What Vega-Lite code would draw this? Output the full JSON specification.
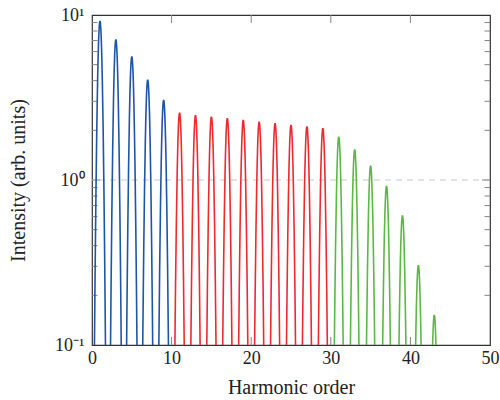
{
  "$schema": "https://vega.github.io/schema/vega-lite/v6.json",
  "width": 398,
  "height": 330,
  "autosize": {"type": "none"},
  "padding": {"left": 92, "top": 15, "right": 10, "bottom": 55},
  "config": {
    "font": "Liberation Serif",
    "view": {"stroke": "#333333", "strokeWidth": 1.2},
    "axis": {
      "labelFont": "Liberation Serif",
      "titleFont": "Liberation Serif",
      "labelFontSize": 18,
      "titleFontSize": 20,
      "titleFontWeight": "normal",
      "labelColor": "#222222",
      "titleColor": "#222222",
      "domain": false,
      "ticks": false,
      "grid": false,
      "labelFlush": false,
      "labelOverlap": false
    }
  },
  "data": {"values": [
    {"h":1,"g":"A","x":0.2,"y":0.0217},{"h":1,"g":"A","x":0.3,"y":0.0896},{"h":1,"g":"A","x":0.4,"y":0.3063},{"h":1,"g":"A","x":0.5,"y":0.8659},{"h":1,"g":"A","x":0.6,"y":2.028},{"h":1,"g":"A","x":0.7,"y":3.929},{"h":1,"g":"A","x":0.75,"y":5.096},{"h":1,"g":"A","x":0.8,"y":6.304},{"h":1,"g":"A","x":0.85,"y":7.437},{"h":1,"g":"A","x":0.9,"y":8.370},{"h":1,"g":"A","x":0.95,"y":8.985},{"h":1,"g":"A","x":1,"y":9.2},{"h":1,"g":"A","x":1.05,"y":8.985},{"h":1,"g":"A","x":1.1,"y":8.370},{"h":1,"g":"A","x":1.15,"y":7.437},{"h":1,"g":"A","x":1.2,"y":6.304},{"h":1,"g":"A","x":1.25,"y":5.096},{"h":1,"g":"A","x":1.3,"y":3.929},{"h":1,"g":"A","x":1.4,"y":2.028},{"h":1,"g":"A","x":1.5,"y":0.8659},{"h":1,"g":"A","x":1.6,"y":0.3063},{"h":1,"g":"A","x":1.7,"y":0.0896},{"h":1,"g":"A","x":1.8,"y":0.0217},
    {"h":3,"g":"A","x":2.2,"y":0.0168},{"h":3,"g":"A","x":2.3,"y":0.0692},{"h":3,"g":"A","x":2.4,"y":0.2364},{"h":3,"g":"A","x":2.5,"y":0.6683},{"h":3,"g":"A","x":2.6,"y":1.565},{"h":3,"g":"A","x":2.7,"y":3.032},{"h":3,"g":"A","x":2.75,"y":3.933},{"h":3,"g":"A","x":2.8,"y":4.865},{"h":3,"g":"A","x":2.85,"y":5.740},{"h":3,"g":"A","x":2.9,"y":6.460},{"h":3,"g":"A","x":2.95,"y":6.934},{"h":3,"g":"A","x":3,"y":7.1},{"h":3,"g":"A","x":3.05,"y":6.934},{"h":3,"g":"A","x":3.1,"y":6.460},{"h":3,"g":"A","x":3.15,"y":5.740},{"h":3,"g":"A","x":3.2,"y":4.865},{"h":3,"g":"A","x":3.25,"y":3.933},{"h":3,"g":"A","x":3.3,"y":3.032},{"h":3,"g":"A","x":3.4,"y":1.565},{"h":3,"g":"A","x":3.5,"y":0.6683},{"h":3,"g":"A","x":3.6,"y":0.2364},{"h":3,"g":"A","x":3.7,"y":0.0692},{"h":3,"g":"A","x":3.8,"y":0.0168},
    {"h":5,"g":"A","x":4.2,"y":0.0132},{"h":5,"g":"A","x":4.3,"y":0.0545},{"h":5,"g":"A","x":4.4,"y":0.1864},{"h":5,"g":"A","x":4.5,"y":0.5271},{"h":5,"g":"A","x":4.6,"y":1.234},{"h":5,"g":"A","x":4.7,"y":2.392},{"h":5,"g":"A","x":4.75,"y":3.102},{"h":5,"g":"A","x":4.8,"y":3.837},{"h":5,"g":"A","x":4.85,"y":4.527},{"h":5,"g":"A","x":4.9,"y":5.095},{"h":5,"g":"A","x":4.95,"y":5.469},{"h":5,"g":"A","x":5,"y":5.6},{"h":5,"g":"A","x":5.05,"y":5.469},{"h":5,"g":"A","x":5.1,"y":5.095},{"h":5,"g":"A","x":5.15,"y":4.527},{"h":5,"g":"A","x":5.2,"y":3.837},{"h":5,"g":"A","x":5.25,"y":3.102},{"h":5,"g":"A","x":5.3,"y":2.392},{"h":5,"g":"A","x":5.4,"y":1.234},{"h":5,"g":"A","x":5.5,"y":0.5271},{"h":5,"g":"A","x":5.6,"y":0.1864},{"h":5,"g":"A","x":5.7,"y":0.0545},{"h":5,"g":"A","x":5.8,"y":0.0132},
    {"h":7,"g":"A","x":6.2,"y":0.0096},{"h":7,"g":"A","x":6.3,"y":0.0394},{"h":7,"g":"A","x":6.4,"y":0.1348},{"h":7,"g":"A","x":6.5,"y":0.3812},{"h":7,"g":"A","x":6.6,"y":0.8926},{"h":7,"g":"A","x":6.7,"y":1.730},{"h":7,"g":"A","x":6.75,"y":2.243},{"h":7,"g":"A","x":6.8,"y":2.775},{"h":7,"g":"A","x":6.85,"y":3.274},{"h":7,"g":"A","x":6.9,"y":3.685},{"h":7,"g":"A","x":6.95,"y":3.955},{"h":7,"g":"A","x":7,"y":4.05},{"h":7,"g":"A","x":7.05,"y":3.955},{"h":7,"g":"A","x":7.1,"y":3.685},{"h":7,"g":"A","x":7.15,"y":3.274},{"h":7,"g":"A","x":7.2,"y":2.775},{"h":7,"g":"A","x":7.25,"y":2.243},{"h":7,"g":"A","x":7.3,"y":1.730},{"h":7,"g":"A","x":7.4,"y":0.8926},{"h":7,"g":"A","x":7.5,"y":0.3812},{"h":7,"g":"A","x":7.6,"y":0.1348},{"h":7,"g":"A","x":7.7,"y":0.0394},{"h":7,"g":"A","x":7.8,"y":0.0096},
    {"h":9,"g":"A","x":8.2,"y":0.0072},{"h":9,"g":"A","x":8.3,"y":0.0298},{"h":9,"g":"A","x":8.4,"y":0.1019},{"h":9,"g":"A","x":8.5,"y":0.2880},{"h":9,"g":"A","x":8.6,"y":0.6744},{"h":9,"g":"A","x":8.7,"y":1.307},{"h":9,"g":"A","x":8.75,"y":1.695},{"h":9,"g":"A","x":8.8,"y":2.097},{"h":9,"g":"A","x":8.85,"y":2.474},{"h":9,"g":"A","x":8.9,"y":2.784},{"h":9,"g":"A","x":8.95,"y":2.988},{"h":9,"g":"A","x":9,"y":3.06},{"h":9,"g":"A","x":9.05,"y":2.988},{"h":9,"g":"A","x":9.1,"y":2.784},{"h":9,"g":"A","x":9.15,"y":2.474},{"h":9,"g":"A","x":9.2,"y":2.097},{"h":9,"g":"A","x":9.25,"y":1.695},{"h":9,"g":"A","x":9.3,"y":1.307},{"h":9,"g":"A","x":9.4,"y":0.6744},{"h":9,"g":"A","x":9.5,"y":0.2880},{"h":9,"g":"A","x":9.6,"y":0.1019},{"h":9,"g":"A","x":9.7,"y":0.0298},{"h":9,"g":"A","x":9.8,"y":0.0072},
    {"h":11,"g":"B","x":10.2,"y":0.0060},{"h":11,"g":"B","x":10.3,"y":0.0249},{"h":11,"g":"B","x":10.4,"y":0.0852},{"h":11,"g":"B","x":10.5,"y":0.2409},{"h":11,"g":"B","x":10.6,"y":0.5642},{"h":11,"g":"B","x":10.7,"y":1.093},{"h":11,"g":"B","x":10.75,"y":1.418},{"h":11,"g":"B","x":10.8,"y":1.754},{"h":11,"g":"B","x":10.85,"y":2.070},{"h":11,"g":"B","x":10.9,"y":2.329},{"h":11,"g":"B","x":10.95,"y":2.500},{"h":11,"g":"B","x":11,"y":2.56},{"h":11,"g":"B","x":11.05,"y":2.500},{"h":11,"g":"B","x":11.1,"y":2.329},{"h":11,"g":"B","x":11.15,"y":2.070},{"h":11,"g":"B","x":11.2,"y":1.754},{"h":11,"g":"B","x":11.25,"y":1.418},{"h":11,"g":"B","x":11.3,"y":1.093},{"h":11,"g":"B","x":11.4,"y":0.5642},{"h":11,"g":"B","x":11.5,"y":0.2409},{"h":11,"g":"B","x":11.6,"y":0.0852},{"h":11,"g":"B","x":11.7,"y":0.0249},{"h":11,"g":"B","x":11.8,"y":0.0060},
    {"h":13,"g":"B","x":12.2,"y":0.0058},{"h":13,"g":"B","x":12.3,"y":0.0241},{"h":13,"g":"B","x":12.4,"y":0.0822},{"h":13,"g":"B","x":12.5,"y":0.2325},{"h":13,"g":"B","x":12.6,"y":0.5444},{"h":13,"g":"B","x":12.7,"y":1.055},{"h":13,"g":"B","x":12.75,"y":1.368},{"h":13,"g":"B","x":12.8,"y":1.692},{"h":13,"g":"B","x":12.85,"y":1.997},{"h":13,"g":"B","x":12.9,"y":2.247},{"h":13,"g":"B","x":12.95,"y":2.412},{"h":13,"g":"B","x":13,"y":2.47},{"h":13,"g":"B","x":13.05,"y":2.412},{"h":13,"g":"B","x":13.1,"y":2.247},{"h":13,"g":"B","x":13.15,"y":1.997},{"h":13,"g":"B","x":13.2,"y":1.692},{"h":13,"g":"B","x":13.25,"y":1.368},{"h":13,"g":"B","x":13.3,"y":1.055},{"h":13,"g":"B","x":13.4,"y":0.5444},{"h":13,"g":"B","x":13.5,"y":0.2325},{"h":13,"g":"B","x":13.6,"y":0.0822},{"h":13,"g":"B","x":13.7,"y":0.0241},{"h":13,"g":"B","x":13.8,"y":0.0058},
    {"h":15,"g":"B","x":14.2,"y":0.0057},{"h":15,"g":"B","x":14.3,"y":0.0236},{"h":15,"g":"B","x":14.4,"y":0.0806},{"h":15,"g":"B","x":14.5,"y":0.2278},{"h":15,"g":"B","x":14.6,"y":0.5334},{"h":15,"g":"B","x":14.7,"y":1.034},{"h":15,"g":"B","x":14.75,"y":1.340},{"h":15,"g":"B","x":14.8,"y":1.658},{"h":15,"g":"B","x":14.85,"y":1.956},{"h":15,"g":"B","x":14.9,"y":2.202},{"h":15,"g":"B","x":14.95,"y":2.363},{"h":15,"g":"B","x":15,"y":2.42},{"h":15,"g":"B","x":15.05,"y":2.363},{"h":15,"g":"B","x":15.1,"y":2.202},{"h":15,"g":"B","x":15.15,"y":1.956},{"h":15,"g":"B","x":15.2,"y":1.658},{"h":15,"g":"B","x":15.25,"y":1.340},{"h":15,"g":"B","x":15.3,"y":1.034},{"h":15,"g":"B","x":15.4,"y":0.5334},{"h":15,"g":"B","x":15.5,"y":0.2278},{"h":15,"g":"B","x":15.6,"y":0.0806},{"h":15,"g":"B","x":15.7,"y":0.0236},{"h":15,"g":"B","x":15.8,"y":0.0057},
    {"h":17,"g":"B","x":16.2,"y":0.0056},{"h":17,"g":"B","x":16.3,"y":0.0231},{"h":17,"g":"B","x":16.4,"y":0.0789},{"h":17,"g":"B","x":16.5,"y":0.2231},{"h":17,"g":"B","x":16.6,"y":0.5223},{"h":17,"g":"B","x":16.7,"y":1.012},{"h":17,"g":"B","x":16.75,"y":1.313},{"h":17,"g":"B","x":16.8,"y":1.624},{"h":17,"g":"B","x":16.85,"y":1.916},{"h":17,"g":"B","x":16.9,"y":2.156},{"h":17,"g":"B","x":16.95,"y":2.315},{"h":17,"g":"B","x":17,"y":2.37},{"h":17,"g":"B","x":17.05,"y":2.315},{"h":17,"g":"B","x":17.1,"y":2.156},{"h":17,"g":"B","x":17.15,"y":1.916},{"h":17,"g":"B","x":17.2,"y":1.624},{"h":17,"g":"B","x":17.25,"y":1.313},{"h":17,"g":"B","x":17.3,"y":1.012},{"h":17,"g":"B","x":17.4,"y":0.5223},{"h":17,"g":"B","x":17.5,"y":0.2231},{"h":17,"g":"B","x":17.6,"y":0.0789},{"h":17,"g":"B","x":17.7,"y":0.0231},{"h":17,"g":"B","x":17.8,"y":0.0056},
    {"h":19,"g":"B","x":18.2,"y":0.0055},{"h":19,"g":"B","x":18.3,"y":0.0225},{"h":19,"g":"B","x":18.4,"y":0.0769},{"h":19,"g":"B","x":18.5,"y":0.2174},{"h":19,"g":"B","x":18.6,"y":0.5091},{"h":19,"g":"B","x":18.7,"y":0.9866},{"h":19,"g":"B","x":18.75,"y":1.280},{"h":19,"g":"B","x":18.8,"y":1.583},{"h":19,"g":"B","x":18.85,"y":1.867},{"h":19,"g":"B","x":18.9,"y":2.102},{"h":19,"g":"B","x":18.95,"y":2.256},{"h":19,"g":"B","x":19,"y":2.31},{"h":19,"g":"B","x":19.05,"y":2.256},{"h":19,"g":"B","x":19.1,"y":2.102},{"h":19,"g":"B","x":19.15,"y":1.867},{"h":19,"g":"B","x":19.2,"y":1.583},{"h":19,"g":"B","x":19.25,"y":1.280},{"h":19,"g":"B","x":19.3,"y":0.9866},{"h":19,"g":"B","x":19.4,"y":0.5091},{"h":19,"g":"B","x":19.5,"y":0.2174},{"h":19,"g":"B","x":19.6,"y":0.0769},{"h":19,"g":"B","x":19.7,"y":0.0225},{"h":19,"g":"B","x":19.8,"y":0.0055},
    {"h":21,"g":"B","x":20.2,"y":0.0053},{"h":21,"g":"B","x":20.3,"y":0.0220},{"h":21,"g":"B","x":20.4,"y":0.0752},{"h":21,"g":"B","x":20.5,"y":0.2127},{"h":21,"g":"B","x":20.6,"y":0.4981},{"h":21,"g":"B","x":20.7,"y":0.9652},{"h":21,"g":"B","x":20.75,"y":1.252},{"h":21,"g":"B","x":20.8,"y":1.549},{"h":21,"g":"B","x":20.85,"y":1.827},{"h":21,"g":"B","x":20.9,"y":2.056},{"h":21,"g":"B","x":20.95,"y":2.207},{"h":21,"g":"B","x":21,"y":2.26},{"h":21,"g":"B","x":21.05,"y":2.207},{"h":21,"g":"B","x":21.1,"y":2.056},{"h":21,"g":"B","x":21.15,"y":1.827},{"h":21,"g":"B","x":21.2,"y":1.549},{"h":21,"g":"B","x":21.25,"y":1.252},{"h":21,"g":"B","x":21.3,"y":0.9652},{"h":21,"g":"B","x":21.4,"y":0.4981},{"h":21,"g":"B","x":21.5,"y":0.2127},{"h":21,"g":"B","x":21.6,"y":0.0752},{"h":21,"g":"B","x":21.7,"y":0.0220},{"h":21,"g":"B","x":21.8,"y":0.0053},
    {"h":23,"g":"B","x":22.2,"y":0.0052},{"h":23,"g":"B","x":22.3,"y":0.0215},{"h":23,"g":"B","x":22.4,"y":0.0736},{"h":23,"g":"B","x":22.5,"y":0.2080},{"h":23,"g":"B","x":22.6,"y":0.4871},{"h":23,"g":"B","x":22.7,"y":0.9439},{"h":23,"g":"B","x":22.75,"y":1.224},{"h":23,"g":"B","x":22.8,"y":1.514},{"h":23,"g":"B","x":22.85,"y":1.787},{"h":23,"g":"B","x":22.9,"y":2.011},{"h":23,"g":"B","x":22.95,"y":2.158},{"h":23,"g":"B","x":23,"y":2.21},{"h":23,"g":"B","x":23.05,"y":2.158},{"h":23,"g":"B","x":23.1,"y":2.011},{"h":23,"g":"B","x":23.15,"y":1.787},{"h":23,"g":"B","x":23.2,"y":1.514},{"h":23,"g":"B","x":23.25,"y":1.224},{"h":23,"g":"B","x":23.3,"y":0.9439},{"h":23,"g":"B","x":23.4,"y":0.4871},{"h":23,"g":"B","x":23.5,"y":0.2080},{"h":23,"g":"B","x":23.6,"y":0.0736},{"h":23,"g":"B","x":23.7,"y":0.0215},{"h":23,"g":"B","x":23.8,"y":0.0052},
    {"h":25,"g":"B","x":24.2,"y":0.0051},{"h":25,"g":"B","x":24.3,"y":0.0210},{"h":25,"g":"B","x":24.4,"y":0.0719},{"h":25,"g":"B","x":24.5,"y":0.2033},{"h":25,"g":"B","x":24.6,"y":0.4761},{"h":25,"g":"B","x":24.7,"y":0.9225},{"h":25,"g":"B","x":24.75,"y":1.196},{"h":25,"g":"B","x":24.8,"y":1.480},{"h":25,"g":"B","x":24.85,"y":1.746},{"h":25,"g":"B","x":24.9,"y":1.965},{"h":25,"g":"B","x":24.95,"y":2.109},{"h":25,"g":"B","x":25,"y":2.16},{"h":25,"g":"B","x":25.05,"y":2.109},{"h":25,"g":"B","x":25.1,"y":1.965},{"h":25,"g":"B","x":25.15,"y":1.746},{"h":25,"g":"B","x":25.2,"y":1.480},{"h":25,"g":"B","x":25.25,"y":1.196},{"h":25,"g":"B","x":25.3,"y":0.9225},{"h":25,"g":"B","x":25.4,"y":0.4761},{"h":25,"g":"B","x":25.5,"y":0.2033},{"h":25,"g":"B","x":25.6,"y":0.0719},{"h":25,"g":"B","x":25.7,"y":0.0210},{"h":25,"g":"B","x":25.8,"y":0.0051},
    {"h":27,"g":"B","x":26.2,"y":0.0050},{"h":27,"g":"B","x":26.3,"y":0.0206},{"h":27,"g":"B","x":26.4,"y":0.0702},{"h":27,"g":"B","x":26.5,"y":0.1986},{"h":27,"g":"B","x":26.6,"y":0.4650},{"h":27,"g":"B","x":26.7,"y":0.9012},{"h":27,"g":"B","x":26.75,"y":1.169},{"h":27,"g":"B","x":26.8,"y":1.446},{"h":27,"g":"B","x":26.85,"y":1.706},{"h":27,"g":"B","x":26.9,"y":1.920},{"h":27,"g":"B","x":26.95,"y":2.061},{"h":27,"g":"B","x":27,"y":2.11},{"h":27,"g":"B","x":27.05,"y":2.061},{"h":27,"g":"B","x":27.1,"y":1.920},{"h":27,"g":"B","x":27.15,"y":1.706},{"h":27,"g":"B","x":27.2,"y":1.446},{"h":27,"g":"B","x":27.25,"y":1.169},{"h":27,"g":"B","x":27.3,"y":0.9012},{"h":27,"g":"B","x":27.4,"y":0.4650},{"h":27,"g":"B","x":27.5,"y":0.1986},{"h":27,"g":"B","x":27.6,"y":0.0702},{"h":27,"g":"B","x":27.7,"y":0.0206},{"h":27,"g":"B","x":27.8,"y":0.0050},
    {"h":29,"g":"B","x":28.2,"y":0.0049},{"h":29,"g":"B","x":28.3,"y":0.0201},{"h":29,"g":"B","x":28.4,"y":0.0686},{"h":29,"g":"B","x":28.5,"y":0.1939},{"h":29,"g":"B","x":28.6,"y":0.4540},{"h":29,"g":"B","x":28.7,"y":0.8798},{"h":29,"g":"B","x":28.75,"y":1.141},{"h":29,"g":"B","x":28.8,"y":1.411},{"h":29,"g":"B","x":28.85,"y":1.665},{"h":29,"g":"B","x":28.9,"y":1.874},{"h":29,"g":"B","x":28.95,"y":2.012},{"h":29,"g":"B","x":29,"y":2.06},{"h":29,"g":"B","x":29.05,"y":2.012},{"h":29,"g":"B","x":29.1,"y":1.874},{"h":29,"g":"B","x":29.15,"y":1.665},{"h":29,"g":"B","x":29.2,"y":1.411},{"h":29,"g":"B","x":29.25,"y":1.141},{"h":29,"g":"B","x":29.3,"y":0.8798},{"h":29,"g":"B","x":29.4,"y":0.4540},{"h":29,"g":"B","x":29.5,"y":0.1939},{"h":29,"g":"B","x":29.6,"y":0.0686},{"h":29,"g":"B","x":29.7,"y":0.0201},{"h":29,"g":"B","x":29.8,"y":0.0049},
    {"h":31,"g":"C","x":30.2,"y":0.0043},{"h":31,"g":"C","x":30.3,"y":0.0178},{"h":31,"g":"C","x":30.4,"y":0.0609},{"h":31,"g":"C","x":30.5,"y":0.1722},{"h":31,"g":"C","x":30.6,"y":0.4033},{"h":31,"g":"C","x":30.7,"y":0.7816},{"h":31,"g":"C","x":30.75,"y":1.014},{"h":31,"g":"C","x":30.8,"y":1.254},{"h":31,"g":"C","x":30.85,"y":1.479},{"h":31,"g":"C","x":30.9,"y":1.665},{"h":31,"g":"C","x":30.95,"y":1.787},{"h":31,"g":"C","x":31,"y":1.83},{"h":31,"g":"C","x":31.05,"y":1.787},{"h":31,"g":"C","x":31.1,"y":1.665},{"h":31,"g":"C","x":31.15,"y":1.479},{"h":31,"g":"C","x":31.2,"y":1.254},{"h":31,"g":"C","x":31.25,"y":1.014},{"h":31,"g":"C","x":31.3,"y":0.7816},{"h":31,"g":"C","x":31.4,"y":0.4033},{"h":31,"g":"C","x":31.5,"y":0.1722},{"h":31,"g":"C","x":31.6,"y":0.0609},{"h":31,"g":"C","x":31.7,"y":0.0178},{"h":31,"g":"C","x":31.8,"y":0.0043},
    {"h":33,"g":"C","x":32.2,"y":0.0036},{"h":33,"g":"C","x":32.3,"y":0.0149},{"h":33,"g":"C","x":32.4,"y":0.0509},{"h":33,"g":"C","x":32.5,"y":0.1440},{"h":33,"g":"C","x":32.6,"y":0.3372},{"h":33,"g":"C","x":32.7,"y":0.6535},{"h":33,"g":"C","x":32.75,"y":0.8475},{"h":33,"g":"C","x":32.8,"y":1.048},{"h":33,"g":"C","x":32.85,"y":1.237},{"h":33,"g":"C","x":32.9,"y":1.392},{"h":33,"g":"C","x":32.95,"y":1.494},{"h":33,"g":"C","x":33,"y":1.53},{"h":33,"g":"C","x":33.05,"y":1.494},{"h":33,"g":"C","x":33.1,"y":1.392},{"h":33,"g":"C","x":33.15,"y":1.237},{"h":33,"g":"C","x":33.2,"y":1.048},{"h":33,"g":"C","x":33.25,"y":0.8475},{"h":33,"g":"C","x":33.3,"y":0.6535},{"h":33,"g":"C","x":33.4,"y":0.3372},{"h":33,"g":"C","x":33.5,"y":0.1440},{"h":33,"g":"C","x":33.6,"y":0.0509},{"h":33,"g":"C","x":33.7,"y":0.0149},{"h":33,"g":"C","x":33.8,"y":0.0036},
    {"h":35,"g":"C","x":34.2,"y":0.0029},{"h":35,"g":"C","x":34.3,"y":0.0119},{"h":35,"g":"C","x":34.4,"y":0.0406},{"h":35,"g":"C","x":34.5,"y":0.1148},{"h":35,"g":"C","x":34.6,"y":0.2689},{"h":35,"g":"C","x":34.7,"y":0.5211},{"h":35,"g":"C","x":34.75,"y":0.6758},{"h":35,"g":"C","x":34.8,"y":0.8359},{"h":35,"g":"C","x":34.85,"y":0.9862},{"h":35,"g":"C","x":34.9,"y":1.110},{"h":35,"g":"C","x":34.95,"y":1.191},{"h":35,"g":"C","x":35,"y":1.22},{"h":35,"g":"C","x":35.05,"y":1.191},{"h":35,"g":"C","x":35.1,"y":1.110},{"h":35,"g":"C","x":35.15,"y":0.9862},{"h":35,"g":"C","x":35.2,"y":0.8359},{"h":35,"g":"C","x":35.25,"y":0.6758},{"h":35,"g":"C","x":35.3,"y":0.5211},{"h":35,"g":"C","x":35.4,"y":0.2689},{"h":35,"g":"C","x":35.5,"y":0.1148},{"h":35,"g":"C","x":35.6,"y":0.0406},{"h":35,"g":"C","x":35.7,"y":0.0119},{"h":35,"g":"C","x":35.8,"y":0.0029},
    {"h":37,"g":"C","x":36.2,"y":0.0022},{"h":37,"g":"C","x":36.3,"y":0.0090},{"h":37,"g":"C","x":36.4,"y":0.0306},{"h":37,"g":"C","x":36.5,"y":0.0866},{"h":37,"g":"C","x":36.6,"y":0.2028},{"h":37,"g":"C","x":36.7,"y":0.3929},{"h":37,"g":"C","x":36.75,"y":0.5096},{"h":37,"g":"C","x":36.8,"y":0.6304},{"h":37,"g":"C","x":36.85,"y":0.7437},{"h":37,"g":"C","x":36.9,"y":0.8370},{"h":37,"g":"C","x":36.95,"y":0.8985},{"h":37,"g":"C","x":37,"y":0.92},{"h":37,"g":"C","x":37.05,"y":0.8985},{"h":37,"g":"C","x":37.1,"y":0.8370},{"h":37,"g":"C","x":37.15,"y":0.7437},{"h":37,"g":"C","x":37.2,"y":0.6304},{"h":37,"g":"C","x":37.25,"y":0.5096},{"h":37,"g":"C","x":37.3,"y":0.3929},{"h":37,"g":"C","x":37.4,"y":0.2028},{"h":37,"g":"C","x":37.5,"y":0.0866},{"h":37,"g":"C","x":37.6,"y":0.0306},{"h":37,"g":"C","x":37.7,"y":0.0090},{"h":37,"g":"C","x":37.8,"y":0.0022},
    {"h":39,"g":"C","x":38.2,"y":0.0014},{"h":39,"g":"C","x":38.3,"y":0.0059},{"h":39,"g":"C","x":38.4,"y":0.0203},{"h":39,"g":"C","x":38.5,"y":0.0574},{"h":39,"g":"C","x":38.6,"y":0.1344},{"h":39,"g":"C","x":38.7,"y":0.2605},{"h":39,"g":"C","x":38.75,"y":0.3379},{"h":39,"g":"C","x":38.8,"y":0.4180},{"h":39,"g":"C","x":38.85,"y":0.4931},{"h":39,"g":"C","x":38.9,"y":0.5550},{"h":39,"g":"C","x":38.95,"y":0.5957},{"h":39,"g":"C","x":39,"y":0.61},{"h":39,"g":"C","x":39.05,"y":0.5957},{"h":39,"g":"C","x":39.1,"y":0.5550},{"h":39,"g":"C","x":39.15,"y":0.4931},{"h":39,"g":"C","x":39.2,"y":0.4180},{"h":39,"g":"C","x":39.25,"y":0.3379},{"h":39,"g":"C","x":39.3,"y":0.2605},{"h":39,"g":"C","x":39.4,"y":0.1344},{"h":39,"g":"C","x":39.5,"y":0.0574},{"h":39,"g":"C","x":39.6,"y":0.0203},{"h":39,"g":"C","x":39.7,"y":0.0059},{"h":39,"g":"C","x":39.8,"y":0.0014},
    {"h":41,"g":"C","x":40.2,"y":0.0007},{"h":41,"g":"C","x":40.3,"y":0.0030},{"h":41,"g":"C","x":40.4,"y":0.0102},{"h":41,"g":"C","x":40.5,"y":0.0287},{"h":41,"g":"C","x":40.6,"y":0.0672},{"h":41,"g":"C","x":40.7,"y":0.1303},{"h":41,"g":"C","x":40.75,"y":0.1689},{"h":41,"g":"C","x":40.8,"y":0.2090},{"h":41,"g":"C","x":40.85,"y":0.2466},{"h":41,"g":"C","x":40.9,"y":0.2775},{"h":41,"g":"C","x":40.95,"y":0.2979},{"h":41,"g":"C","x":41,"y":0.305},{"h":41,"g":"C","x":41.05,"y":0.2979},{"h":41,"g":"C","x":41.1,"y":0.2775},{"h":41,"g":"C","x":41.15,"y":0.2466},{"h":41,"g":"C","x":41.2,"y":0.2090},{"h":41,"g":"C","x":41.25,"y":0.1689},{"h":41,"g":"C","x":41.3,"y":0.1303},{"h":41,"g":"C","x":41.4,"y":0.0672},{"h":41,"g":"C","x":41.5,"y":0.0287},{"h":41,"g":"C","x":41.6,"y":0.0102},{"h":41,"g":"C","x":41.7,"y":0.0030},{"h":41,"g":"C","x":41.8,"y":0.0007},
    {"h":43,"g":"C","x":42.2,"y":0.0004},{"h":43,"g":"C","x":42.3,"y":0.0015},{"h":43,"g":"C","x":42.4,"y":0.0051},{"h":43,"g":"C","x":42.5,"y":0.0143},{"h":43,"g":"C","x":42.6,"y":0.0335},{"h":43,"g":"C","x":42.7,"y":0.0649},{"h":43,"g":"C","x":42.75,"y":0.0842},{"h":43,"g":"C","x":42.8,"y":0.1041},{"h":43,"g":"C","x":42.85,"y":0.1229},{"h":43,"g":"C","x":42.9,"y":0.1383},{"h":43,"g":"C","x":42.95,"y":0.1484},{"h":43,"g":"C","x":43,"y":0.152},{"h":43,"g":"C","x":43.05,"y":0.1484},{"h":43,"g":"C","x":43.1,"y":0.1383},{"h":43,"g":"C","x":43.15,"y":0.1229},{"h":43,"g":"C","x":43.2,"y":0.1041},{"h":43,"g":"C","x":43.25,"y":0.0842},{"h":43,"g":"C","x":43.3,"y":0.0649},{"h":43,"g":"C","x":43.4,"y":0.0335},{"h":43,"g":"C","x":43.5,"y":0.0143},{"h":43,"g":"C","x":43.6,"y":0.0051},{"h":43,"g":"C","x":43.7,"y":0.0015},{"h":43,"g":"C","x":43.8,"y":0.0004}
  ]},
  "layer": [
    {
      "data": {"values": [{"ref": 1}]},
      "mark": {"type": "rule", "color": "#c8c8c8", "strokeDash": [6, 5], "strokeWidth": 1},
      "encoding": {
        "y": {"field": "ref", "type": "quantitative", "scale": {"type": "log", "domain": [0.1, 10]}, "axis": null}
      }
    },
    {
      "data": {"values": [
        {"a": 10, "b": 10, "c": 0.1, "d": 0.1118}, {"a": 20, "b": 20, "c": 0.1, "d": 0.1118}, {"a": 30, "b": 30, "c": 0.1, "d": 0.1118}, {"a": 40, "b": 40, "c": 0.1, "d": 0.1118},
        {"a": 10, "b": 10, "c": 10, "d": 8.945}, {"a": 20, "b": 20, "c": 10, "d": 8.945}, {"a": 30, "b": 30, "c": 10, "d": 8.945}, {"a": 40, "b": 40, "c": 10, "d": 8.945},
        {"a": 0, "b": 1.005, "c": 1, "d": 1}, {"a": 50, "b": 48.995, "c": 1, "d": 1},
        {"a": 0, "b": 0.69, "c": 0.2, "d": 0.2}, {"a": 0, "b": 0.69, "c": 0.3, "d": 0.3}, {"a": 0, "b": 0.69, "c": 0.4, "d": 0.4}, {"a": 0, "b": 0.69, "c": 0.5, "d": 0.5}, {"a": 0, "b": 0.69, "c": 0.6, "d": 0.6}, {"a": 0, "b": 0.69, "c": 0.7, "d": 0.7}, {"a": 0, "b": 0.69, "c": 0.8, "d": 0.8}, {"a": 0, "b": 0.69, "c": 0.9, "d": 0.9},
        {"a": 0, "b": 0.69, "c": 2, "d": 2}, {"a": 0, "b": 0.69, "c": 3, "d": 3}, {"a": 0, "b": 0.69, "c": 4, "d": 4}, {"a": 0, "b": 0.69, "c": 5, "d": 5}, {"a": 0, "b": 0.69, "c": 6, "d": 6}, {"a": 0, "b": 0.69, "c": 7, "d": 7}, {"a": 0, "b": 0.69, "c": 8, "d": 8}, {"a": 0, "b": 0.69, "c": 9, "d": 9},
        {"a": 50, "b": 49.31, "c": 0.2, "d": 0.2}, {"a": 50, "b": 49.31, "c": 0.3, "d": 0.3}, {"a": 50, "b": 49.31, "c": 0.4, "d": 0.4}, {"a": 50, "b": 49.31, "c": 0.5, "d": 0.5}, {"a": 50, "b": 49.31, "c": 0.6, "d": 0.6}, {"a": 50, "b": 49.31, "c": 0.7, "d": 0.7}, {"a": 50, "b": 49.31, "c": 0.8, "d": 0.8}, {"a": 50, "b": 49.31, "c": 0.9, "d": 0.9},
        {"a": 50, "b": 49.31, "c": 2, "d": 2}, {"a": 50, "b": 49.31, "c": 3, "d": 3}, {"a": 50, "b": 49.31, "c": 4, "d": 4}, {"a": 50, "b": 49.31, "c": 5, "d": 5}, {"a": 50, "b": 49.31, "c": 6, "d": 6}, {"a": 50, "b": 49.31, "c": 7, "d": 7}, {"a": 50, "b": 49.31, "c": 8, "d": 8}, {"a": 50, "b": 49.31, "c": 9, "d": 9}
      ]},
      "mark": {"type": "rule", "color": "#858585", "strokeWidth": 1, "clip": true},
      "encoding": {
        "x": {"field": "a", "type": "quantitative", "scale": {"domain": [0, 50], "nice": false, "zero": false}, "axis": null},
        "x2": {"field": "b"},
        "y": {"field": "c", "type": "quantitative", "scale": {"type": "log", "domain": [0.1, 10]}, "axis": null},
        "y2": {"field": "d"}
      }
    },
    {
      "mark": {"type": "line", "strokeWidth": 1.6, "clip": true},
      "encoding": {
        "x": {
          "field": "x", "type": "quantitative",
          "scale": {"domain": [0, 50], "nice": false, "zero": false},
          "axis": {"orient": "bottom", "values": [0, 10, 20, 30, 40, 50], "title": "Harmonic order", "labelPadding": 4, "titlePadding": 10}
        },
        "y": {
          "field": "y", "type": "quantitative",
          "scale": {"type": "log", "domain": [0.1, 10]},
          "axis": {
            "orient": "left",
            "values": [0.1, 1, 10],
            "labelExpr": "datum.value == 10 ? '10¹' : datum.value == 1 ? '10⁰' : '10⁻¹'",
            "labelPadding": 8,
            "title": "Intensity (arb. units)",
            "titlePadding": 26
          }
        },
        "color": {
          "field": "g", "type": "nominal",
          "scale": {"domain": ["A", "B", "C"], "range": ["#1f55a6", "#ec2a2f", "#5cb845"]},
          "legend": null
        },
        "detail": {"field": "h", "type": "nominal"}
      }
    }
  ],
  "resolve": {"axis": {"x": "independent", "y": "independent"}}
}
